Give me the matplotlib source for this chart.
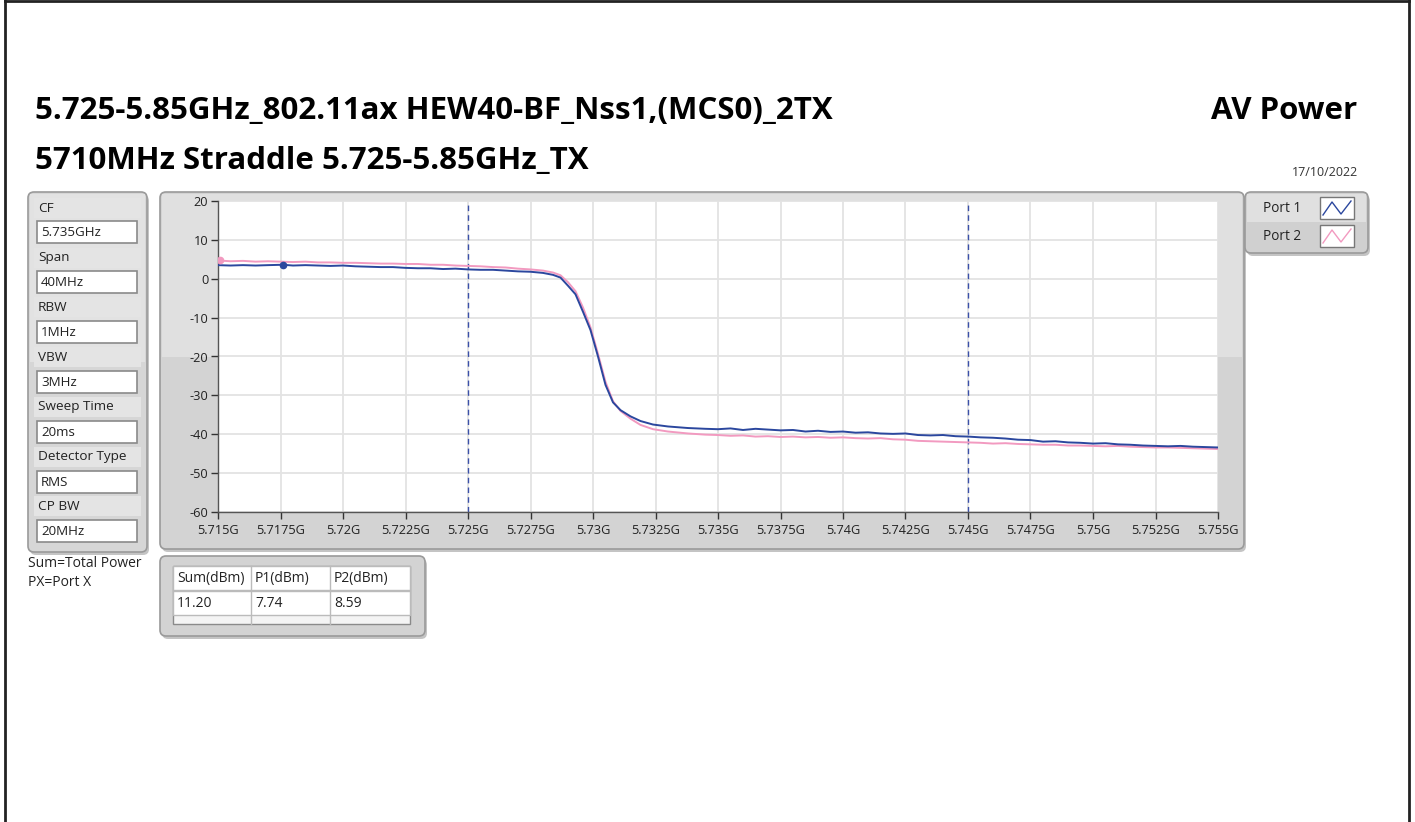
import matplotlib
matplotlib.use("Agg")
import matplotlib.pyplot as plt
from matplotlib.patches import FancyBboxPatch, Rectangle

plt.rcParams['font.family'] = ['Open Sans', 'DejaVu Sans']

# ---------------- data ----------------
title1 = "5.725-5.85GHz_802.11ax HEW40-BF_Nss1,(MCS0)_2TX"
title2 = "5710MHz Straddle 5.725-5.85GHz_TX"
title_right = "AV Power"
date_text = "17/10/2022"

setting_names = ["CF", "Span", "RBW", "VBW", "Sweep Time", "Detector Type", "CP BW"]
setting_values = ["5.735GHz", "40MHz", "1MHz", "3MHz", "20ms", "RMS", "20MHz"]

table_headers = ["Sum(dBm)", "P1(dBm)", "P2(dBm)"]
table_values = ["11.20", "7.74", "8.59"]

x_ticks = [5.715, 5.7175, 5.72, 5.7225, 5.725, 5.7275, 5.73, 5.7325, 5.735,
           5.7375, 5.74, 5.7425, 5.745, 5.7475, 5.75, 5.7525, 5.755]
x_tick_labels = ["5.715G", "5.7175G", "5.72G", "5.7225G", "5.725G", "5.7275G", "5.73G",
                 "5.7325G", "5.735G", "5.7375G", "5.74G", "5.7425G", "5.745G", "5.7475G",
                 "5.75G", "5.7525G", "5.755G"]
y_ticks = [20, 10, 0, -10, -20, -30, -40, -50, -60]
limit_lines = [5.725, 5.745]

port1_freq = [5.7150, 5.7155, 5.7160, 5.7165, 5.7170, 5.7176, 5.7180, 5.7185, 5.7190, 5.7195,
              5.7200, 5.7205, 5.7210, 5.7215, 5.7220, 5.7225, 5.7230, 5.7235, 5.7240, 5.7245,
              5.7250, 5.7255, 5.7260, 5.7265, 5.7270, 5.7275, 5.7280, 5.7284, 5.7287, 5.7290,
              5.7293, 5.7296, 5.7299, 5.7302, 5.7305, 5.7308, 5.7311, 5.7315, 5.7319, 5.7324,
              5.7330, 5.7338, 5.7345,
              5.7350, 5.7355, 5.7360, 5.7365, 5.7370, 5.7375, 5.7380, 5.7385, 5.7390, 5.7395,
              5.7400, 5.7405, 5.7410, 5.7415, 5.7420, 5.7425, 5.7430, 5.7435, 5.7440, 5.7445,
              5.7450, 5.7455, 5.7460, 5.7465, 5.7470, 5.7475, 5.7480, 5.7485, 5.7490, 5.7495,
              5.7500, 5.7505, 5.7510, 5.7515, 5.7520, 5.7525, 5.7530, 5.7535, 5.7540, 5.7545,
              5.7550]
port1_level = [3.5, 3.4, 3.5, 3.4, 3.5, 3.6, 3.4, 3.5, 3.4, 3.3,
               3.4, 3.2, 3.1, 3.0, 3.0, 2.8, 2.7, 2.7, 2.5, 2.6,
               2.4, 2.3, 2.3, 2.1, 1.9, 1.8, 1.5, 1.0, 0.3, -1.8,
               -4.0, -8.5, -13.2, -20.0, -27.3, -31.8, -33.8, -35.4, -36.6, -37.5,
               -38.0, -38.4, -38.6,
               -38.7, -38.5, -38.9, -38.6, -38.8, -39.0, -38.9, -39.3, -39.1, -39.4,
               -39.3, -39.6, -39.5, -39.8, -39.9, -39.8, -40.2, -40.3, -40.2, -40.5,
               -40.6, -40.8, -40.9, -41.1, -41.4, -41.5, -41.9, -41.8, -42.1, -42.2,
               -42.4, -42.3, -42.6, -42.7, -42.9, -43.0, -43.1, -43.0, -43.2, -43.3,
               -43.4]

port2_freq = [5.7150, 5.7155, 5.7160, 5.7165, 5.7170, 5.7175, 5.7180, 5.7185, 5.7190, 5.7195,
              5.7200, 5.7205, 5.7210, 5.7215, 5.7220, 5.7225, 5.7230, 5.7235, 5.7240, 5.7245,
              5.7250, 5.7255, 5.7260, 5.7265, 5.7270, 5.7275, 5.7280, 5.7284, 5.7287, 5.7290,
              5.7293, 5.7296, 5.7299, 5.7302, 5.7305, 5.7308, 5.7311, 5.7315, 5.7319, 5.7324,
              5.7330, 5.7338, 5.7345,
              5.7350, 5.7355, 5.7360, 5.7365, 5.7370, 5.7375, 5.7380, 5.7385, 5.7390, 5.7395,
              5.7400, 5.7405, 5.7410, 5.7415, 5.7420, 5.7425, 5.7430, 5.7435, 5.7440, 5.7445,
              5.7450, 5.7455, 5.7460, 5.7465, 5.7470, 5.7475, 5.7480, 5.7485, 5.7490, 5.7495,
              5.7500, 5.7505, 5.7510, 5.7515, 5.7520, 5.7525, 5.7530, 5.7535, 5.7540, 5.7545,
              5.7550]
port2_level = [4.7, 4.5, 4.6, 4.4, 4.5, 4.4, 4.3, 4.4, 4.2, 4.2,
               4.1, 4.1, 4.0, 3.9, 3.9, 3.8, 3.8, 3.6, 3.6, 3.4,
               3.3, 3.2, 3.0, 2.9, 2.6, 2.4, 2.1, 1.6, 0.9, -0.9,
               -3.2, -7.4, -12.5, -19.3, -26.5, -31.5, -34.0, -36.0, -37.6, -38.7,
               -39.3, -39.8, -40.1,
               -40.2, -40.4, -40.3, -40.6, -40.5, -40.7, -40.6, -40.8, -40.7, -40.9,
               -40.8, -41.0, -41.1, -41.0, -41.3, -41.4, -41.7, -41.8, -41.9, -42.0,
               -42.1, -42.2, -42.4, -42.3, -42.5, -42.6, -42.7, -42.7, -42.9, -42.9,
               -43.0, -43.1, -43.0, -43.2, -43.3, -43.4, -43.4, -43.5, -43.6, -43.7,
               -43.8]

marker1 = (5.7176, 3.6)
marker2 = (5.7151, 4.7)

# ---------------- figure ----------------
W, H = 1415, 822
fig = plt.figure(figsize=(W / 100, H / 100), dpi=100)
bg = fig.add_axes([0, 0, 1, 1])
bg.set_xlim(0, W)
bg.set_ylim(H, 0)
bg.axis('off')

BLUE = '#2b479e'
PINK = '#f29ac0'
TXT = '#222222'


def panel(x0, y0, x1, y1, top_col, bot_col, split=None, r=6):
    bg.add_patch(FancyBboxPatch((x0 + 2, y0 + 3), x1 - x0, y1 - y0,
                                boxstyle=f"round,pad=0,rounding_size={r}",
                                fc='#c4c4c4', ec='none', zorder=1))
    bg.add_patch(FancyBboxPatch((x0, y0), x1 - x0, y1 - y0,
                                boxstyle=f"round,pad=0,rounding_size={r}",
                                fc=bot_col, ec='#9a9a9a', lw=1.2, zorder=2))
    if split is not None:
        bg.add_patch(Rectangle((x0 + 2, y0 + 2), x1 - x0 - 4, split - y0 - 2,
                               fc=top_col, ec='none', zorder=2.1))


# outer frame
bg.plot([5, 5], [0, H], color='#222222', lw=2, zorder=5)
bg.plot([1409, 1409], [0, H], color='#222222', lw=2, zorder=5)
bg.plot([5, 1409], [1, 1], color='#222222', lw=2, zorder=5)

# titles
bg.text(35, 111, title1, fontsize=22.5, fontweight='bold', va='center', ha='left', zorder=5)
bg.text(35, 161, title2, fontsize=22.5, fontweight='bold', va='center', ha='left', zorder=5)
bg.text(1357, 111, title_right, fontsize=22.5, fontweight='bold', va='center', ha='right',
        zorder=5)
bg.text(1358, 172, date_text, fontsize=9, va='center', ha='right', color='#333333', zorder=5)

# left settings panel
panel(28, 192, 147, 552, '#e2e2e2', '#d6d6d6', split=362)
for i, (nm, val) in enumerate(zip(setting_names, setting_values)):
    ly = 208 + i * 49.7
    by = 232 + i * 49.9
    bg.add_patch(Rectangle((34, ly - 10), 107, 20, fc='#e4e4e4', ec='none', zorder=2.2))
    bg.text(38, ly, nm, fontsize=9.7, va='center', ha='left', color=TXT, zorder=5)
    bg.add_patch(Rectangle((37, by - 11), 100, 22, fc='white', ec='#8a8a8a', lw=1.2, zorder=3))
    bg.text(41, by + 0.5, val, fontsize=9.6, va='center', ha='left', color=TXT, zorder=5)

bg.text(28, 563, "Sum=Total Power", fontsize=10, va='center', ha='left', color=TXT, zorder=5)
bg.text(28, 582, "PX=Port X", fontsize=10, va='center', ha='left', color=TXT, zorder=5)

# graph panel
panel(160, 192, 1244, 549, '#e0e0e0', '#d3d3d3', split=357)

# legend panel
panel(1245, 192, 1368, 253, '#e0e0e0', '#d0d0d0', split=222)
bg.text(1263, 208, "Port 1", fontsize=9.8, va='center', ha='left', color=TXT, zorder=5)
bg.text(1263, 236, "Port 2", fontsize=9.8, va='center', ha='left', color=TXT, zorder=5)
for yy, col in [(197, BLUE), (225, PINK)]:
    bg.add_patch(Rectangle((1320, yy), 34, 22, fc='white', ec='#777777', lw=1, zorder=3))
    bg.plot([1323, 1332, 1341, 1351], [yy + 18, yy + 5, yy + 17, yy + 4], color=col, lw=1,
            zorder=4)

# table panel
panel(160, 556, 425, 636, '#e0e0e0', '#d3d3d3')
bg.add_patch(Rectangle((173, 566), 237, 58, fc='#f4f4f4', ec='#8a8a8a', lw=1, zorder=3))
bg.add_patch(Rectangle((173, 566), 237, 24, fc='white', ec='#bbbbbb', lw=1, zorder=3.1))
bg.add_patch(Rectangle((173, 591), 237, 24, fc='white', ec='#bbbbbb', lw=1, zorder=3.1))
col_x = [173, 251, 330]
for cx in col_x[1:]:
    bg.plot([cx, cx], [566, 624], color='#bbbbbb', lw=1, zorder=3.2)
for cx, hd, val in zip(col_x, table_headers, table_values):
    bg.text(cx + 4, 578, hd, fontsize=10, va='center', ha='left', color=TXT, zorder=5)
    bg.text(cx + 4, 603, val, fontsize=10, va='center', ha='left', color=TXT, zorder=5)

# ---------------- main plot ----------------
ax = fig.add_axes([218 / W, 1 - 512 / H, 1000 / W, 311 / H])
ax.set_facecolor('white')
ax.set_xlim(5.715, 5.755)
ax.set_ylim(-60, 20)
ax.set_xticks(x_ticks)
ax.set_xticklabels(x_tick_labels)
ax.set_yticks(y_ticks)
ax.set_yticklabels([str(v) for v in y_ticks])
ax.grid(True, color='#e3e3e3', lw=1.3)
ax.set_axisbelow(True)
for s in ['top', 'right']:
    ax.spines[s].set_visible(False)
for s in ['left', 'bottom']:
    ax.spines[s].set_color('#555555')
    ax.spines[s].set_linewidth(1)
ax.tick_params(axis='both', direction='out', length=5, width=1, color='#333333',
               labelsize=9.2, labelcolor=TXT)
ax.tick_params(axis='x', pad=4)
ax.tick_params(axis='y', pad=2)

for lx in limit_lines:
    ax.axvline(lx, color='#3a50a8', lw=1, ls=(0, (4, 3)), zorder=2)

ax.plot(port2_freq, port2_level, color=PINK, lw=1.4, zorder=3)
ax.plot(port1_freq, port1_level, color=BLUE, lw=1.4, zorder=4)
ax.plot(*marker2, 'o', color=PINK, ms=4.5, zorder=5)
ax.plot(*marker1, 'o', color=BLUE, ms=4.5, zorder=5)

fig.savefig('out.png', dpi=100)
